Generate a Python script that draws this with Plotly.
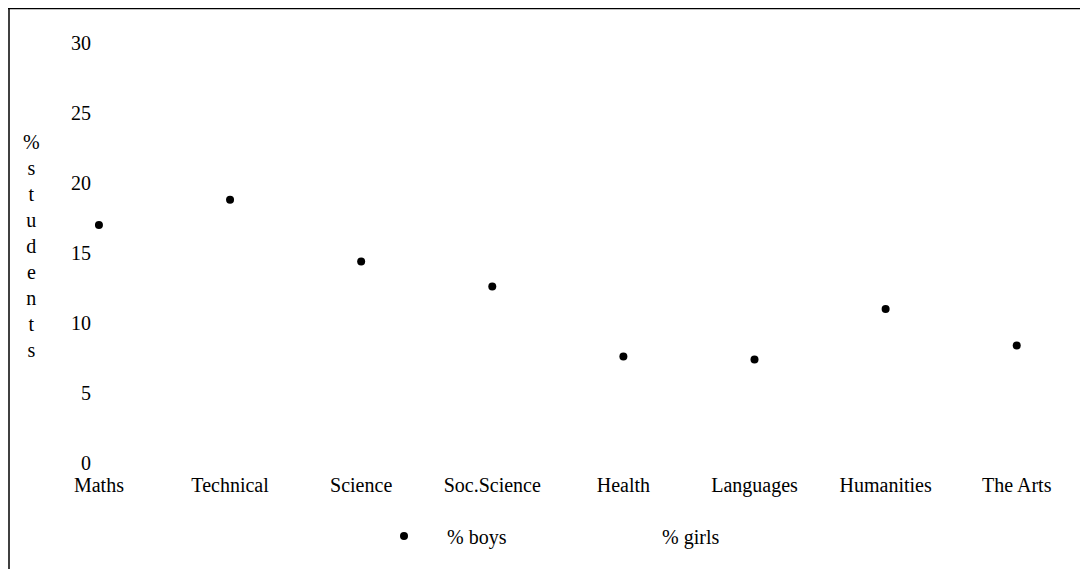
import plotly.graph_objects as go

categories = ["Maths", "Technical", "Science", "Soc.Science", "Health", "Languages", "Humanities", "The Arts"]
boys = [17.0, 18.8, 14.4, 12.6, 7.6, 7.4, 11.0, 8.4]
girls = [None] * len(categories)  # girls' markers are not visible in the reference
y_ticks = [0, 5, 10, 15, 20, 25, 30]

FONT = "Liberation Serif"

# plot area in figure px: left 87, right 1052, top 35, bottom 455
L, R, T, B = 87, 1052, 35, 455
W, H = R - L, B - T

def px(x):
    return (x - L) / W

def py(y):
    return (B - y) / H

fig = go.Figure()
fig.add_trace(go.Scatter(
    x=list(range(len(boys))), y=boys, mode="markers", name="% boys",
    marker=dict(color="black", size=8, symbol="circle"),
))
fig.add_trace(go.Scatter(
    x=list(range(len(girls))), y=girls, mode="markers", name="% girls",
    marker=dict(color="white", size=8, symbol="circle"),
))

fig.update_layout(
    width=1088, height=569,
    margin=dict(l=L, r=1088 - R, t=T, b=569 - B, pad=0),
    paper_bgcolor="white", plot_bgcolor="white",
    font=dict(family=FONT, size=20, color="black"),
    showlegend=True,
    legend=dict(orientation="h", x=px(353), y=py(528), xanchor="left", yanchor="middle",
                font=dict(family=FONT, size=20), itemwidth=76, entrywidth=124,
                bgcolor="rgba(0,0,0,0)", traceorder="normal"),
    xaxis=dict(
        range=[-0.03, 7.33], tickmode="array", tickvals=list(range(len(categories))),
        ticktext=categories, showgrid=False, zeroline=False, showline=False,
        ticks="", ticklabelstandoff=8, tickfont=dict(family=FONT, size=20),
    ),
    yaxis=dict(
        range=[0, 30], tickmode="array", tickvals=y_ticks, showgrid=False,
        zeroline=False, showline=False, ticks="", ticklabelstandoff=3,
        tickfont=dict(family=FONT, size=20),
    ),
    shapes=[
        dict(type="line", xref="paper", yref="paper", x0=px(0), x1=px(1090),
             y0=py(0.5), y1=py(0.5), line=dict(color="black", width=1.5)),
        dict(type="line", xref="paper", yref="paper", x0=px(1), x1=px(1),
             y0=py(0.5), y1=py(570), line=dict(color="black", width=1.5)),
    ],
    annotations=[
        dict(text="%<br>s<br>t<br>u<br>d<br>e<br>n<br>t<br>s", xref="paper", yref="paper",
             x=px(24), y=py(238), xanchor="center", yanchor="middle",
             showarrow=False, align="center", font=dict(family=FONT, size=20)),
    ],
)

fig.write_html("out.html")
